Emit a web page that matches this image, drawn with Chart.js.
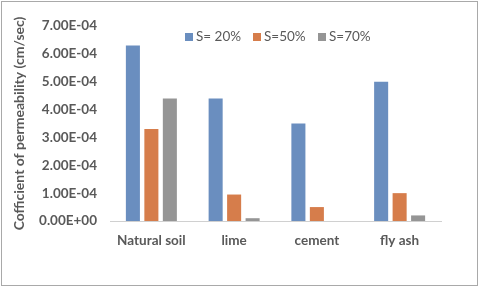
<!DOCTYPE html>
<html>
<head>
<meta charset="utf-8">
<script src="https://cdn.jsdelivr.net/npm/chart.js@4"></script>
<style>
html,body{margin:0;padding:0;background:#fff;}
#wrap{width:480px;height:289px;position:relative;}
</style>
</head>
<body>
<div id="wrap"><canvas id="c" width="480" height="289"></canvas></div>
<script>
const categories = ['Natural soil', 'lime', 'cement', 'fly ash'];
const seriesNames = ['S= 20%', 'S=50%', 'S=70%'];
const s20 = [6.3e-4, 4.4e-4, 3.5e-4, 5.0e-4];
const s50 = [3.3e-4, 0.95e-4, 0.5e-4, 1.0e-4];
const s70 = [4.4e-4, 0.1e-4, 0, 0.2e-4];
const yTickLabels = ['0.00E+00','1.00E-04','2.00E-04','3.00E-04','4.00E-04','5.00E-04','6.00E-04','7.00E-04'];
const yTitle = 'Cofficient of permeability (cm/sec)';

const colors = ['#6a8ebf', '#d67d4b', '#959595'];
const FONT = 'Lato, "Open Sans", sans-serif';
const TXT = '#595959';

const legendPlugin = {
  id: 'customLegend',
  afterDraw(chart) {
    const ctx = chart.ctx;
    ctx.save();
    ctx.font = '13.5px ' + FONT;
    ctx.textBaseline = 'middle';
    const y = 37;
    const xs = [185, 253, 318];
    chart.data.datasets.forEach((ds, i) => {
      ctx.fillStyle = ds.backgroundColor;
      ctx.fillRect(xs[i], y - 4, 8, 8);
      ctx.fillStyle = TXT;
      ctx.textAlign = 'left';
      ctx.fillText(ds.label, xs[i] + 11, y);
    });
    ctx.restore();
  }
};
const borderPlugin = {
  id: 'outerBorder',
  afterDraw(chart) {
    const ctx = chart.ctx;
    ctx.save();
    ctx.strokeStyle = '#a9a9a9';
    ctx.lineWidth = 1;
    ctx.strokeRect(1.5, 1.5, 476, 284);
    ctx.restore();
  }
};

new Chart(document.getElementById('c'), {
  type: 'bar',
  data: {
    labels: categories,
    datasets: [
      { label: seriesNames[0], data: s20, backgroundColor: colors[0] },
      { label: seriesNames[1], data: s50, backgroundColor: colors[1] },
      { label: seriesNames[2], data: s70, backgroundColor: colors[2] }
    ]
  },
  options: {
    responsive: false,
    animation: false,
    devicePixelRatio: 1,
    layout: { padding: { top: 26, right: 39, bottom: 8, left: 0 } },
    datasets: { bar: { categoryPercentage: 0.67, barPercentage: 0.76 } },
    plugins: { legend: { display: false }, tooltip: { enabled: false } },
    scales: {
      x: {
        grid: { display: false, drawTicks: false },
        border: { display: true, color: '#d0d0d0', width: 1 },
        ticks: { color: TXT, font: { family: FONT, size: 13.5, weight: 'bold' }, padding: 12, maxRotation: 0 },
        afterFit(s) { s.height = 60; }
      },
      y: {
        min: 0, max: 7e-4,
        grid: { display: false, drawTicks: false },
        border: { display: false },
        ticks: {
          stepSize: 1e-4,
          color: TXT,
          font: { family: FONT, size: 13.5, weight: 'bold' },
          padding: 13,
          callback: (v, i) => yTickLabels[i]
        },
        title: {
          display: true, text: yTitle, color: TXT,
          font: { family: FONT, size: 14, weight: 'bold' },
          padding: { top: 11, bottom: 0 }
        },
        afterFit(s) { s.width = 110; }
      }
    }
  },
  plugins: [legendPlugin, borderPlugin]
});
</script>
</body>
</html>
